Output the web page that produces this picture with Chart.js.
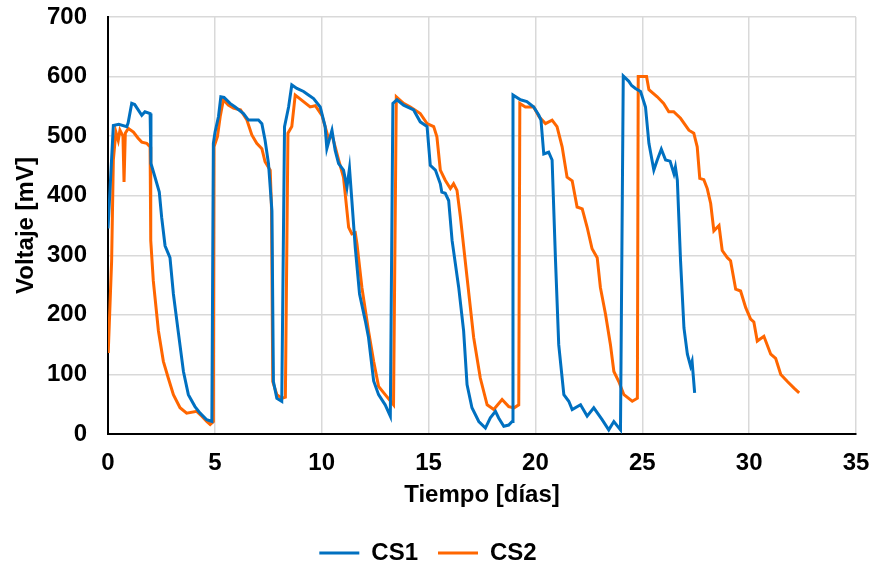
<!DOCTYPE html>
<html>
<head>
<meta charset="utf-8">
<script src="https://cdn.jsdelivr.net/npm/chart.js@4/dist/chart.umd.min.js"></script>
<style>
  body { margin: 0; background: #fff; }
</style>
</head>
<body>
<canvas id="chart" width="874" height="567"></canvas>
<script>
// CS1 readings (day, mV)
const cs1Days = [0.00, 0.25, 0.50, 0.88, 0.94, 1.11, 1.25, 1.58, 1.73, 1.97, 2.01, 2.20, 2.40, 2.51, 2.67, 2.90, 3.06, 3.30, 3.53, 3.76, 4.07, 4.31, 4.62, 4.86,
  4.93, 5.01, 5.17, 5.28, 5.43, 5.71, 5.95, 6.34, 6.57, 7.04, 7.20, 7.35, 7.51, 7.67, 7.74, 7.90, 8.13,
  8.26, 8.45, 8.60, 8.84, 9.15, 9.38, 9.62, 9.93, 10.16, 10.24, 10.48, 10.63, 10.79, 11.02, 11.18, 11.30, 11.41, 11.57, 11.77, 12.04, 12.19, 12.43, 12.66, 12.97, 13.21,
  13.33, 13.52, 13.83, 14.30, 14.61, 14.93, 15.08, 15.32, 15.55, 15.62, 15.78, 15.94, 16.10, 16.41, 16.64, 16.80, 17.03, 17.35, 17.66, 17.89, 18.13, 18.28, 18.52, 18.75, 18.91,
  18.95, 19.30, 19.60, 19.92, 20.16, 20.26, 20.39, 20.62, 20.78, 20.94, 21.09, 21.33, 21.56, 21.72, 22.11, 22.42, 22.73, 23.12, 23.43, 23.67, 23.98,
  24.11, 24.37, 24.50, 24.68, 24.92, 25.15, 25.31, 25.54, 25.70, 25.89, 26.09, 26.30, 26.48, 26.55, 26.64, 26.79, 26.95, 27.11, 27.26, 27.33, 27.45];
const cs1Volt = [345, 518, 520, 516, 522, 555, 553, 535, 541, 538, 454, 431, 406, 364, 316, 296, 235, 168, 105, 66, 46, 35, 24, 21,
  488, 507, 533, 566, 565, 555, 549, 538, 527, 527, 521, 493, 454, 375, 88, 60, 55,
  516, 549, 586, 580, 575, 569, 563, 549, 516, 479, 510, 476, 454, 443, 414, 446, 392, 313, 235, 190, 162, 89, 66, 49, 30,
  555, 561, 552, 544, 524, 516, 451, 443, 420, 406, 404, 392, 325, 246, 173, 83, 44, 21, 10, 27, 38, 27, 13, 15, 21,
  569, 561, 558, 549, 535, 527, 470, 473, 460, 291, 150, 66, 55, 41, 49, 30, 44, 24, 7, 21, 7,
  601, 592, 585, 580, 575, 549, 488, 443, 460, 478, 460, 458, 437, 448, 426, 291, 178, 134, 114, 122, 69];

// CS2 readings (day, mV)
const cs2Days = [0.01, 0.17, 0.25, 0.37, 0.48, 0.56, 0.70, 0.75, 0.81, 0.95, 1.19, 1.40, 1.58, 1.81, 1.97, 2.00, 2.12, 2.36, 2.59, 2.82, 3.06, 3.37, 3.68, 4.15, 4.39, 4.62, 4.78, 4.93,
  4.96, 5.12, 5.25, 5.40, 5.63, 5.87, 6.20, 6.50, 6.73, 6.96, 7.20, 7.35, 7.59, 7.65, 7.71, 7.90, 8.13, 8.30,
  8.42, 8.60, 8.76, 9.00, 9.46, 9.70, 10.01, 10.16, 10.32, 10.48, 10.63, 10.79, 11.02, 11.26, 11.41, 11.57, 11.65, 11.88, 12.19, 12.43, 12.66, 12.97, 13.36,
  13.49, 13.83, 14.15, 14.61, 14.93, 15.24, 15.39, 15.55, 15.78, 16.02, 16.17, 16.33, 16.49, 16.80, 17.11, 17.42, 17.74, 18.05, 18.44, 18.75, 19.00, 19.22,
  19.27, 19.53, 19.92, 20.16, 20.47, 20.78, 21.01, 21.25, 21.48, 21.72, 21.95, 22.19, 22.42, 22.65, 22.89, 23.04, 23.28, 23.51, 23.67, 23.90, 24.14, 24.53, 24.77,
  24.81, 25.20, 25.31, 25.70, 26.00, 26.24, 26.47, 26.79, 27.18, 27.41, 27.57, 27.69, 27.88, 28.04, 28.20, 28.35, 28.59, 28.74, 28.98, 29.13, 29.37, 29.60, 29.84,
  30.07, 30.22, 30.38, 30.69, 31.01, 31.24, 31.48, 31.79, 32.10, 32.34];
const cs2Volt = [136, 291, 460, 507, 493, 510, 500, 423, 505, 513, 507, 497, 490, 488, 482, 325, 257, 173, 122, 94, 66, 44, 35, 38, 30, 21, 16, 21,
  482, 499, 533, 561, 552, 547, 544, 527, 502, 488, 479, 457, 443, 380, 88, 66, 60, 62,
  505, 516, 569, 562, 549, 551, 535, 516, 496, 502, 482, 460, 431, 347, 336, 338, 319, 246, 173, 122, 80, 66, 49,
  566, 555, 549, 538, 521, 516, 499, 443, 426, 412, 420, 409, 364, 263, 162, 94, 49, 41, 58, 46, 44, 49,
  555, 549, 549, 533, 521, 527, 516, 482, 431, 425, 381, 378, 347, 311, 296, 246, 201, 150, 105, 88, 66, 55, 60,
  600, 600, 578, 566, 555, 541, 541, 530, 510, 505, 482, 429, 427, 412, 387, 341, 350, 308, 296, 291, 243, 240, 212,
  193, 188, 156, 164, 134, 127, 100, 88, 77, 69];

const xTicks = [0, 5, 10, 15, 20, 25, 30, 35];
const yTicks = [0, 100, 200, 300, 400, 500, 600, 700];

const toPoints = (xs, ys) => xs.map((x, i) => ({ x: x, y: ys[i] }));

const fontFamily = '"Liberation Sans", Arial, sans-serif';
const boldFont = { family: fontFamily, size: 24, weight: 'bold' };

const ctx = document.getElementById('chart').getContext('2d');
const chart = new Chart(ctx, {
    type: 'scatter',
    data: {
        datasets: [{
            label: 'CS1',
            data: toPoints(cs1Days, cs1Volt),
            borderColor: '#0070C0',
            backgroundColor: '#0070C0',
            borderWidth: 3,
            showLine: true,
            pointRadius: 0,
            tension: 0
        }, {
            label: 'CS2',
            data: toPoints(cs2Days, cs2Volt),
            borderColor: '#FF6600',
            backgroundColor: '#FF6600',
            borderWidth: 3,
            showLine: true,
            pointRadius: 0,
            tension: 0
        }]
    },
    options: {
        responsive: false,
        animation: false,
        layout: { padding: { top: 17, right: 18, left: 0, bottom: -8 } },
        plugins: {
            tooltip: { enabled: false },
            legend: {
                position: 'bottom',
                labels: {
                    color: '#000',
                    font: boldFont,
                    usePointStyle: true,
                    pointStyle: 'line',
                    pointStyleWidth: 40,
                    padding: 20
                }
            }
        },
        scales: {
            x: {
                type: 'linear',
                min: xTicks[0],
                max: xTicks[xTicks.length - 1],
                afterBuildTicks: s => { s.ticks = xTicks.map(v => ({ value: v })); },
                afterFit: s => { s.height = 87; s.paddingLeft = 0; s.paddingRight = 0; },
                grid: { color: '#d9d9d9', lineWidth: 1.5, drawTicks: false },
                border: { color: '#000', width: 2 },
                ticks: { color: '#000', font: boldFont, padding: 15, maxRotation: 0 },
                title: { display: true, text: 'Tiempo [días]', color: '#000', font: boldFont, padding: { top: 0, bottom: 11 } }
            },
            y: {
                type: 'linear',
                min: yTicks[0],
                max: yTicks[yTicks.length - 1],
                afterBuildTicks: s => { s.ticks = yTicks.map(v => ({ value: v })); },
                afterFit: s => { s.width = 108; s.paddingTop = 0; s.paddingBottom = 0; },
                grid: { color: '#d9d9d9', lineWidth: 1.5, drawTicks: false },
                border: { color: '#000', width: 2 },
                ticks: { color: '#000', font: boldFont, padding: 21 },
                title: { display: true, text: 'Voltaje [mV]', color: '#000', font: boldFont, padding: { top: 12, bottom: 0 } }
            }
        }
    }
});
</script>
</body>
</html>
